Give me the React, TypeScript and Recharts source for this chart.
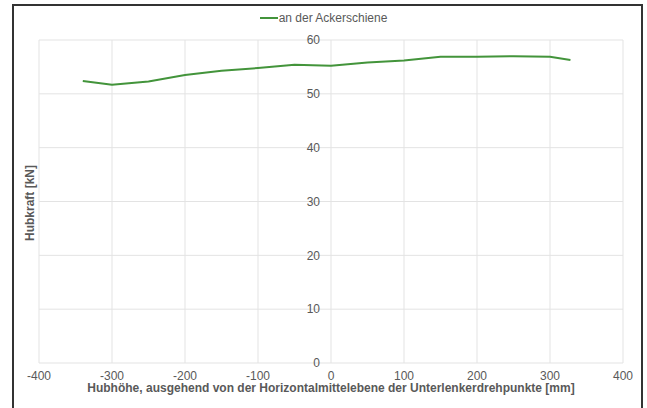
import React from 'react';
import { LineChart, Line, XAxis, YAxis, CartesianGrid, Legend } from 'recharts';

const hubhoehe = [-340, -300, -250, -200, -150, -100, -50, 0, 50, 100, 150, 200, 250, 300, 328];
const hubkraft = [52.4, 51.7, 52.3, 53.5, 54.3, 54.8, 55.4, 55.2, 55.8, 56.2, 56.9, 56.9, 57.0, 56.9, 56.3];
const xTicks = [-400, -300, -200, -100, 0, 100, 200, 300, 400];
const yTicks = [0, 10, 20, 30, 40, 50, 60];
const seriesName = 'an der Ackerschiene';
const xLabel = 'Hubhöhe, ausgehend von der Horizontalmittelebene der Unterlenkerdrehpunkte [mm]';
const yLabel = 'Hubkraft [kN]';

const data = hubhoehe.map((x, i) => ({ x, y: hubkraft[i] }));

const W = 647;
const H = 408;
const M = { top: 40, right: 24, left: 38, bottom: 0 };
const plotLeft = 39;
const plotW = W - plotLeft - M.right;
const FONT = '"Liberation Sans", Arial, sans-serif';
const TEXT = '#595959';
const GREEN = '#43943B';

const YTick = (props: any) => {
  const { y, payload } = props;
  const cx = plotLeft + plotW / 2;
  return (
    <text x={cx - 11} y={y} dy="0.35em" textAnchor="end" fontSize={12} fill={TEXT} fontFamily={FONT}>
      {payload.value}
    </text>
  );
};

const YLabel = () => (
  <text
    x={30}
    y={203}
    transform="rotate(-90 30 203)"
    textAnchor="middle"
    dy="0.35em"
    fontSize={12}
    fontWeight="bold"
    fill={TEXT}
    fontFamily={FONT}
  >
    {yLabel}
  </text>
);

const LegendContent = () => (
  <div style={{ display: 'flex', justifyContent: 'center', alignItems: 'center', fontFamily: FONT, fontSize: 12, color: TEXT }}>
    <span style={{ display: 'inline-block', width: 18, height: 2, background: GREEN, marginRight: 1 }} />
    <span>{seriesName}</span>
  </div>
);

export default function App() {
  return (
    <div style={{ position: 'absolute', left: 0, top: 0, width: W, height: H, overflow: 'hidden', background: '#fff' }}>
      <LineChart width={W} height={H} data={data} margin={M}>
        <CartesianGrid stroke="#e3e3e3" strokeWidth={1} horizontalValues={yTicks} verticalValues={xTicks} />
        <XAxis
          dataKey="x"
          type="number"
          domain={[-400, 400]}
          ticks={xTicks}
          axisLine={false}
          tickLine={false}
          height={45}
          tick={{ fontSize: 12, fill: TEXT, fontFamily: FONT }}
          label={{
            value: xLabel,
            position: 'insideBottom',
            offset: 16,
            style: { fontSize: 12, fontWeight: 'bold', fill: TEXT, fontFamily: FONT },
          }}
        />
        <YAxis
          type="number"
          domain={[0, 60]}
          ticks={yTicks}
          width={1}
          axisLine={false}
          tickLine={false}
          interval={0}
          tick={<YTick />}
          label={{ content: <YLabel /> }}
        />
        <Legend
          layout="horizontal"
          verticalAlign="middle"
          align="center"
          content={<LegendContent />}
          wrapperStyle={{ top: 11, left: 0, width: W }}
        />
        <Line
          type="linear"
          dataKey="y"
          name={seriesName}
          stroke={GREEN}
          strokeWidth={2}
          dot={false}
          isAnimationActive={false}
        />
      </LineChart>
      <div
        style={{
          position: 'absolute',
          left: 12,
          top: 4,
          width: 631,
          height: 410,
          border: '2px solid #333',
          boxSizing: 'border-box',
          pointerEvents: 'none',
        }}
      />
    </div>
  );
}
